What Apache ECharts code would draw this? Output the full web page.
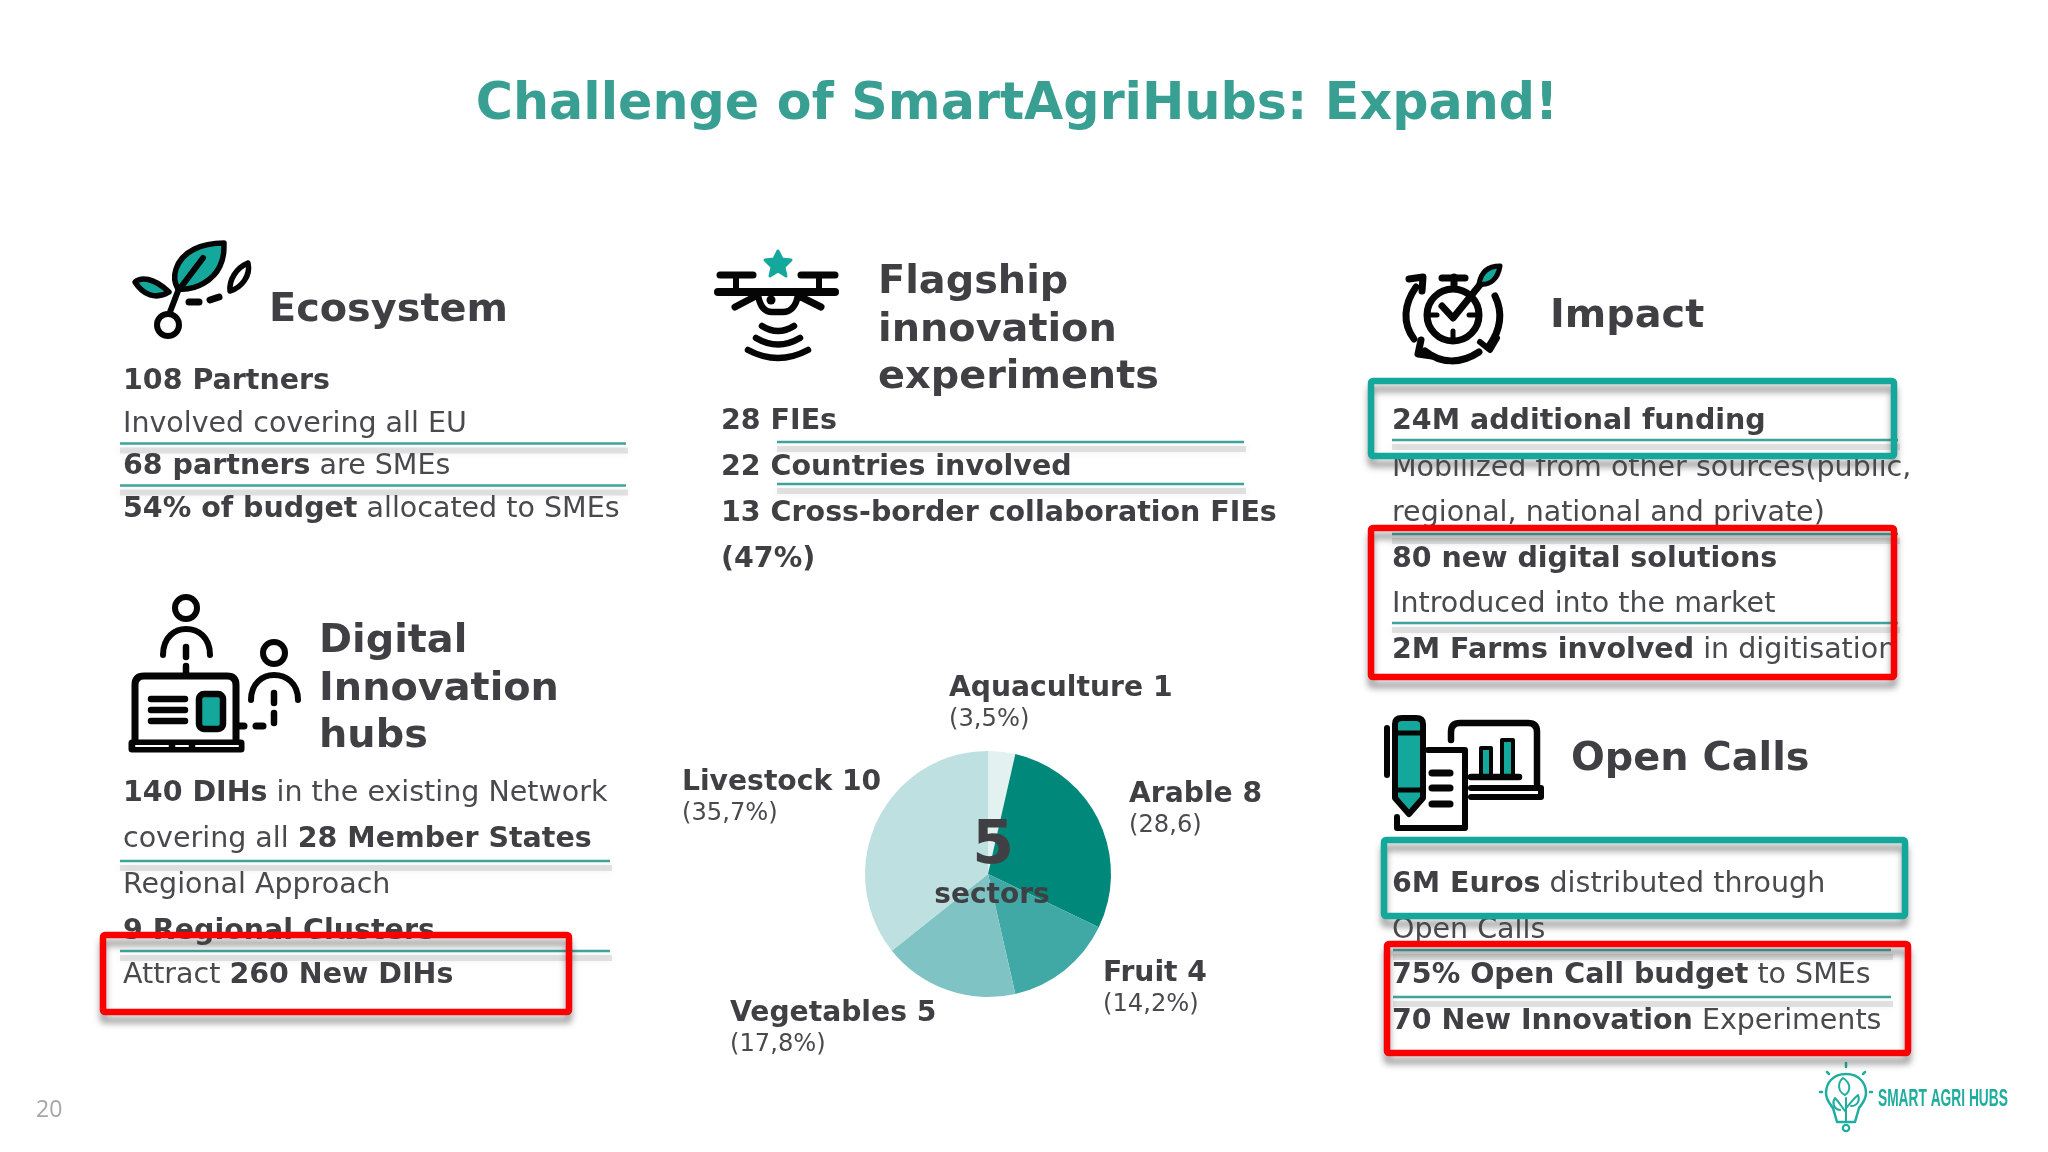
<!DOCTYPE html>
<html>
<head>
<meta charset="utf-8">
<style>html,body{margin:0;padding:0;background:#fff}#c{width:2048px;height:1152px}</style>
<script src="https://cdn.jsdelivr.net/npm/echarts@6/dist/echarts.min.js"></script>
</head>
<body>
<div id="c"></div>
<script>
// ---- data ----
const chartTitle = 'Challenge of SmartAgriHubs: Expand!';
const sectorNames = ['Aquaculture', 'Arable', 'Fruit', 'Vegetables', 'Livestock'];
const sectorValues = [1, 8, 4, 5, 10];
const sectorShares = ['(3,5%)', '(28,6)', '(14,2%)', '(17,8%)', '(35,7%)'];
const centerBig = '5';
const centerSmall = 'sectors';
const ecosystemHead = ['Ecosystem'];
const ecosystemLines = ['{b|108 Partners}', '{r|Involved covering all EU}', '{b|68 partners}{r| are SMEs}', '{b|54% of budget}{r| allocated to SMEs}'];
const flagshipHead = ['Flagship', 'innovation', 'experiments'];
const flagshipLines = ['{b|28 FIEs}', '{b|22 Countries involved}', '{b|13 Cross-border collaboration FIEs}', '{b|(47%)}'];
const digitalHead = ['Digital', 'Innovation', 'hubs'];
const digitalLines = ['{b|140 DIHs}{r| in the existing Network}', '{r|covering all }{b|28 Member States}', '{r|Regional Approach}', '{b|9 Regional Clusters}', '{r|Attract }{b|260 New DIHs}'];
const impactHead = ['Impact'];
const impactLines = ['{b|24M additional funding}', '{r|Mobilized from other sources(public,}', '{r|regional, national and private)}', '{b|80 new digital solutions}', '{r|Introduced into the market}', '{b|2M Farms involved}{r| in digitisation}'];
const openHead = ['Open Calls'];
const openLines = ['{b|6M Euros}{r| distributed through}', '{r|Open Calls}', '{b|75% Open Call budget}{r| to SMEs}', '{b|70 New Innovation}{r| Experiments}'];
const pageNumber = '20';
const logoText = 'SMART AGRI HUBS';

// ---- style and layout ----
const FONT = '"DejaVu Sans", Verdana, sans-serif';
const INK = '#404044', BODY = '#4a4a4e', TEAL = '#13a89b', RED = '#fa0000', RULE = '#3fa39b', BLACK = '#050505';
const BODY_SIZE = 28.5, HEAD_SIZE = 39.8;
const rich = {
  b: {fontFamily: FONT, fontWeight: 'bold', fontSize: BODY_SIZE, fill: INK},
  r: {fontFamily: FONT, fontWeight: 'normal', fontSize: BODY_SIZE, fill: BODY}
};
const els = [];
let ox = 0, oy = 0, shapeCount = 0;
function textBlock(lines, x, ys) {
  lines.forEach((t, i) => els.push({type: 'text', x, y: ys[i], z: 5, style: {text: t, rich, font: BODY_SIZE + 'px ' + FONT, verticalAlign: 'middle', align: 'left'}}));
}
function head(lines, x, ys) {
  lines.forEach((t, i) => els.push({type: 'text', x, y: ys[i], z: 5, style: {text: t, fill: INK, fontFamily: FONT, fontWeight: 'bold', fontSize: HEAD_SIZE, verticalAlign: 'middle', align: 'left'}}));
}
function rule(x1, x2, y) {
  els.push({type: 'line', z: 4, shape: {x1, y1: y + 7, x2: x2 + 2, y2: y + 7}, style: {stroke: 'rgba(170,170,170,0.32)', lineWidth: 6, shadowColor: 'rgba(170,170,170,0.5)', shadowBlur: 7}});
  els.push({type: 'line', z: 6, shape: {x1, y1: y, x2, y2: y}, style: {stroke: RULE, lineWidth: 2.5}});
}
function box(x1, y1, x2, y2, color) {
  els.push({type: 'rect', z: 8, shape: {x: x1, y: y1, width: x2 - x1, height: y2 - y1, r: 2}, style: {fill: 'none', stroke: color, lineWidth: 6.5, shadowColor: 'rgba(70,70,70,0.5)', shadowBlur: 6, shadowOffsetY: 8}});
}
function ink(pathData, opts) {
  const o = opts || {};
  const name = 'inkShape' + (shapeCount++);
  echarts.graphic.registerShape(name, echarts.graphic.extendPath(pathData, {}));
  els.push({type: name, x: ox, y: oy, z: o.z || 7, style: {fill: o.fill || 'none', stroke: o.stroke === undefined ? BLACK : o.stroke, lineWidth: o.lw || 6, lineCap: 'round', lineJoin: 'round'}});
}
function ring(cx, cy, r, lw) {
  els.push({type: 'circle', x: ox, y: oy, z: 7, shape: {cx, cy, r}, style: {fill: '#fff', stroke: BLACK, lineWidth: lw || 6}});
}

// text blocks
head(ecosystemHead, 269, [311]);
textBlock(ecosystemLines, 123, [382, 425, 467, 510]);
rule(120, 626, 443.5); rule(120, 626, 485.5);

head(flagshipHead, 878, [283, 331, 378]);
textBlock(flagshipLines, 721, [422, 468, 514, 560]);
rule(777, 1244, 442); rule(777, 1244, 484);

head(digitalHead, 319, [642, 690, 737]);
textBlock(digitalLines, 123, [794, 840, 886, 932, 976]);
rule(120, 610, 861); rule(120, 610, 951);
box(103, 935, 569, 1012, RED);

head(impactHead, 1550, [317]);
textBlock(impactLines, 1392, [422, 469, 514, 560, 605, 651]);
rule(1392, 1898, 440); rule(1392, 1898, 534); rule(1392, 1898, 623);
box(1371, 381, 1894, 456, TEAL);
box(1371, 528, 1894, 677, RED);

head(openHead, 1571, [760]);
textBlock(openLines, 1392, [885, 931, 976, 1022]);
rule(1393, 1891, 950); rule(1393, 1891, 997);
box(1384, 840, 1905, 916, TEAL);
box(1387, 944, 1908, 1053, RED);

// ecosystem icon
ox = -2; oy = 0;
ink('M226 243 C204 243 184 251 178 269 C175 278 177 284 180 289 C199 291 216 279 222 266 C226 257 226 251 226 243 Z', {fill: TEAL, lw: 5.5});
ink('M205 258 L180 291 L172 312', {lw: 6});
ring(170, 325, 11, 6);
ink('M137 282 C143 277 155 277 171 292 C158 300 145 295 137 282 Z', {fill: TEAL, lw: 5.5});
ink('M250 263 C238 268 231 280 232 291 C243 288 253 276 250 263 Z', {lw: 5.5});
ink('M191 302 L201 302', {lw: 7});
ink('M212 300 L221 297', {lw: 7});

// drone icon
ox = -3; oy = -1;
ink('M781 252 L785 260 L794 261 L787 268 L789 277 L781 272 L773 277 L775 268 L768 261 L777 260 Z', {fill: TEAL, stroke: TEAL, lw: 3});
ink('M723 276 L756 276', {lw: 7});
ink('M804 276 L838 276', {lw: 7});
ink('M721 293 L838 293', {lw: 8});
ink('M739 276 L739 293', {lw: 6});
ink('M822 276 L822 293', {lw: 6});
ink('M738 308 L757 298', {lw: 7});
ink('M824 308 L804 298', {lw: 7});
ink('M761 296 C763 308 768 313 775 313 L786 313 C793 313 799 308 801 296', {lw: 6.5});
els.push({type: 'circle', x: ox, y: oy, z: 7, shape: {cx: 774, cy: 301, r: 4.5}, style: {fill: BLACK}});
ink('M765 327 Q781 337 797 327', {lw: 6.5});
ink('M759 339 Q781 352 803 339', {lw: 6.5});
ink('M751 351 Q781 367 811 351', {lw: 6.5});

// digital hubs icon
ox = -2; oy = -3;
ring(188, 611, 11, 6);
ink('M165 658 C165 640 177 632 188 632 C200 632 212 640 212 658', {lw: 6});
ink('M188 650 L188 660', {lw: 6.5});
ink('M188 669 L188 676', {lw: 6.5});
ink('M137 742 L137 688 Q137 679 146 679 L229 679 Q238 679 238 688 L238 742', {lw: 7});
ink('M134 746 L243 746 L243 752 L134 752 Z', {fill: BLACK, lw: 7});
ink('M138 749 L170 749', {stroke: '#fff', lw: 2});
ink('M178 749 L190 749', {stroke: '#fff', lw: 2});
ink('M198 749 L240 749', {stroke: '#fff', lw: 2});
ink('M153 702 L187 702', {lw: 6.5});
ink('M153 713 L187 713', {lw: 6.5});
ink('M153 724 L187 724', {lw: 6.5});
els.push({type: 'rect', x: ox, y: oy, z: 7, shape: {x: 201, y: 697, width: 24, height: 35, r: 5}, style: {fill: TEAL, stroke: BLACK, lineWidth: 6.5}});
ring(276, 656, 11, 6);
ink('M253 703 C253 686 265 678 276 678 C288 678 300 686 300 703', {lw: 6});
ink('M276 696 L276 706', {lw: 6.5});
ink('M276 716 L276 726', {lw: 6.5});
ink('M258 729 L265 729', {lw: 7});
ink('M239 729 L246 729', {lw: 7});

// impact icon
ox = -5; oy = -2;
ring(1458, 317, 26, 7);
ink('M1459 279 L1459 290', {lw: 7});
ink('M1447 280 L1470 280', {lw: 7});
ink('M1447 308 L1458 320 L1488 283', {lw: 7});
ink('M1505 268 C1493 268 1486 274 1484 286 C1496 288 1503 280 1505 268 Z', {fill: TEAL, lw: 5});
ink('M1458 333 L1458 340', {lw: 5});
ink('M1436 317 L1442 317', {lw: 5});
ink('M1474 317 L1480 317', {lw: 5});
ink('M1421 289 C1409 306 1407 325 1419 341', {lw: 7});
ink('M1414 281 L1428 279 L1427 293', {lw: 7});
ink('M1500 298 C1508 314 1506 332 1494 348', {lw: 7});
ink('M1485 344 L1495 352 L1502 340', {lw: 6});
ink('M1430 353 C1446 366 1466 366 1484 354', {lw: 7});
ink('M1426 342 L1423 356 L1437 358', {lw: 7});

// open calls icon
ox = -3; oy = 0;
ink('M1398 724 L1398 798 L1412 814 L1426 798 L1426 724 Q1426 718 1419 718 L1405 718 Q1398 718 1398 724 Z', {fill: TEAL, lw: 6});
ink('M1398 733 L1426 733', {lw: 5});
ink('M1398 790 L1426 790', {lw: 5});
ink('M1390 728 L1390 775', {lw: 6});
ink('M1431 750 L1468 750 L1468 828 L1400 828 L1400 817', {lw: 6});
ink('M1435 773 L1453 773', {lw: 7});
ink('M1435 788 L1453 788', {lw: 7});
ink('M1435 804 L1453 804', {lw: 7});
ink('M1454 740 L1454 732 Q1454 723 1463 723 L1531 723 Q1540 723 1540 732 L1540 784', {lw: 6.5});
ink('M1484 776 L1484 748 L1494 748 L1494 776', {fill: TEAL, lw: 4});
ink('M1505 776 L1505 740 L1516 740 L1516 776', {fill: TEAL, lw: 4});
ink('M1474 777 L1522 777', {lw: 6.5});
ink('M1474 788 L1544 788 L1544 797 L1474 797', {lw: 6});

// pie centre text
els.push({type: 'text', x: 993, y: 847, z: 10, style: {text: centerBig, fill: INK, fontFamily: FONT, fontWeight: 'bold', fontSize: 60, align: 'center', verticalAlign: 'middle'}});
els.push({type: 'text', x: 992, y: 896, z: 10, style: {text: centerSmall, fill: INK, fontFamily: FONT, fontWeight: 'bold', fontSize: 28, align: 'center', verticalAlign: 'middle'}});

// page number
els.push({type: 'text', x: 36, y: 1110, z: 5, style: {text: pageNumber, fill: '#a6a6a6', fontFamily: '"Open Sans", sans-serif', fontSize: 23, align: 'left', verticalAlign: 'middle'}});

// logo
const LOGO = '#1fad9f';
ox = 0; oy = 0;
ink('M1846 1074 C1833 1074 1826 1083 1826 1093 C1826 1100 1830 1104 1833 1108 L1837 1122 L1855 1122 L1859 1108 C1862 1104 1866 1100 1866 1093 C1866 1083 1859 1074 1846 1074 Z', {stroke: LOGO, lw: 2.5});
ink('M1846 1122 L1846 1098', {stroke: LOGO, lw: 2});
ink('M1843 1078 C1837 1083 1838 1092 1845 1095 C1851 1091 1851 1083 1843 1078 Z', {stroke: LOGO, lw: 2});
ink('M1846 1112 C1842 1108 1840 1103 1835 1098 C1832 1102 1833 1109 1840 1110', {stroke: LOGO, lw: 2});
ink('M1846 1108 C1850 1104 1852 1100 1858 1095 C1860 1100 1858 1106 1851 1106', {stroke: LOGO, lw: 2});
ink('M1846 1063 L1846 1067', {stroke: LOGO, lw: 2.5});
ink('M1827 1072 L1829 1074', {stroke: LOGO, lw: 2.5});
ink('M1865 1072 L1863 1074', {stroke: LOGO, lw: 2.5});
ink('M1820 1092 L1822 1092', {stroke: LOGO, lw: 2.5});
ink('M1870 1092 L1872 1092', {stroke: LOGO, lw: 2.5});
els.push({type: 'circle', z: 7, shape: {cx: 1846, cy: 1128, r: 3.2}, style: {fill: 'none', stroke: LOGO, lineWidth: 2.2}});
els.push({type: 'text', x: 1878, y: 1100, scaleX: 0.585, z: 5, style: {text: logoText, fill: LOGO, fontFamily: '"Liberation Sans", sans-serif', fontWeight: 'bold', fontSize: 23.5, align: 'left', verticalAlign: 'middle'}});

// where each pie label sits, by sector
const labelX = [949, 1129, 1103, 730, 682];
const labelY = [704, 810, 989, 1029, 798];

const chart = echarts.init(document.getElementById('c'), null, {renderer: 'canvas'});
chart.setOption({
  animation: false,
  backgroundColor: '#ffffff',
  title: {text: chartTitle, left: 1012, top: 75, textAlign: 'center', textStyle: {fontFamily: FONT, fontWeight: 'bold', fontSize: 50.7, color: '#3a9f93'}},
  series: [{
    type: 'pie',
    silent: true,
    center: [988, 874],
    radius: [0, 123],
    startAngle: 90,
    clockwise: true,
    color: ['#e4f1f1', '#00897b', '#40a8a5', '#80c3c4', '#bfe0e0'],
    data: sectorNames.map((n, i) => ({name: n, value: sectorValues[i]})),
    labelLine: {show: false},
    label: {
      show: true,
      position: 'outside',
      formatter: p => '{n|' + p.name + ' ' + p.value + '}\n{s|' + sectorShares[p.dataIndex] + '}',
      rich: {
        n: {fontFamily: FONT, fontWeight: 'bold', fontSize: 28.2, color: INK, lineHeight: 31},
        s: {fontFamily: FONT, fontSize: 24.2, color: BODY, lineHeight: 31}
      }
    },
    labelLayout: p => ({x: labelX[p.dataIndex], y: labelY[p.dataIndex], align: 'left', verticalAlign: 'middle', hideOverlap: false})
  }],
  graphic: {elements: els}
});
</script>
</body>
</html>
